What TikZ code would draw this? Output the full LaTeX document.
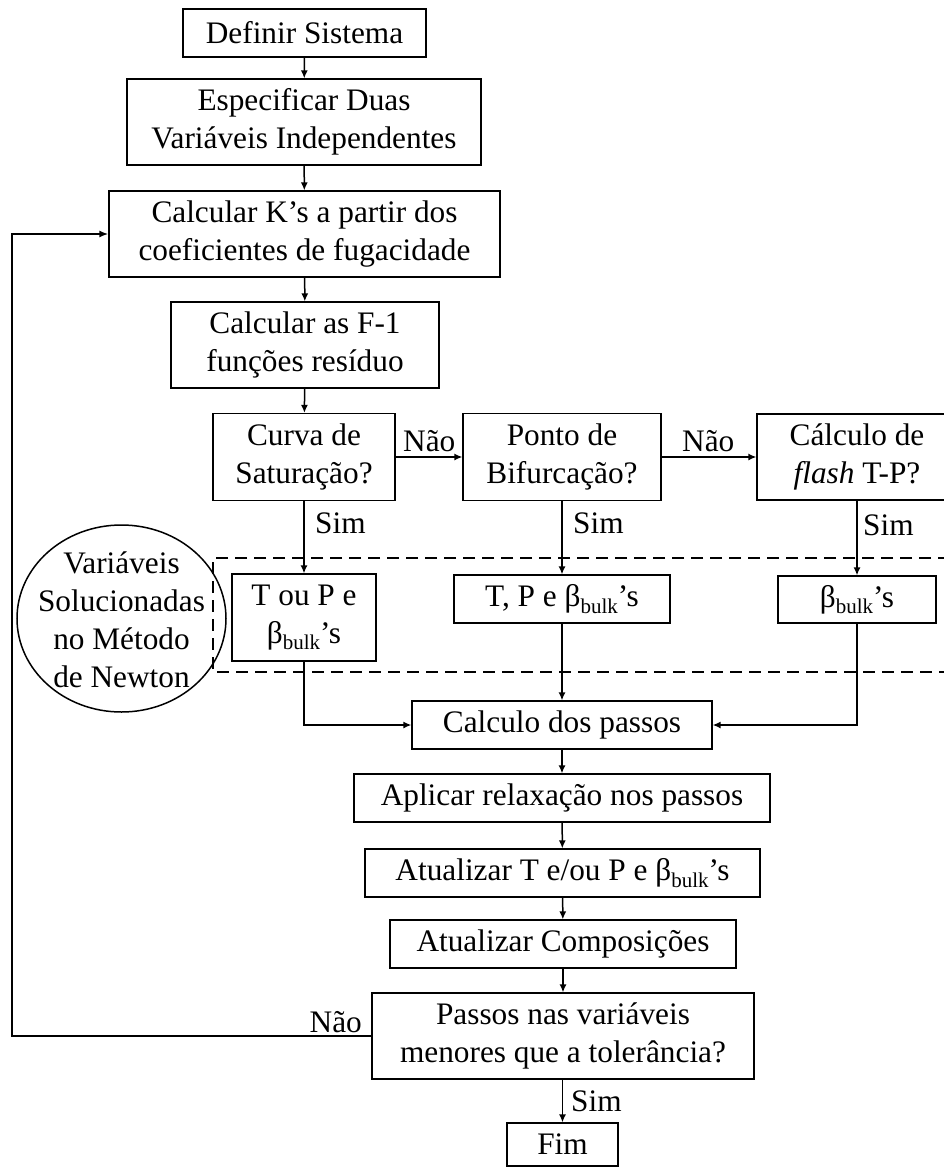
\documentclass[tikz,border=0pt]{standalone}
\usepackage{fontspec}
\setmainfont{Liberation Serif}
\usetikzlibrary{arrows.meta}
% beta with the "bulk" subscript and the plural ending
\newcommand\bbulk{β\raisebox{-0.21em}{\fontsize{21}{21}\selectfont bulk}’s}

\begin{document}
\begin{tikzpicture}[x=1pt,y=-1pt,
  txt/.style={font=\fontsize{31.3}{38}\selectfont, inner sep=0pt},
  box/.style={txt, draw, line width=1.2pt, align=center},
  ovalline/.style={line width=1.5pt},
  flow/.style={line width=1.5pt, -{Latex[length=8pt,width=7pt]}},
  loopline/.style={line width=2.4pt, -{Latex[length=9pt,width=7pt]}},
  region/.style={line width=2pt, dash pattern=on 12pt off 7pt}]
\clip (0,0) rectangle (944,1167);

% main column
\node[box, minimum width=243pt, minimum height=48pt] (def) at (304.5,33) {Definir Sistema};
\node[box, minimum width=354pt, minimum height=86pt] (esp) at (304,122) {Especificar Duas\\Variáveis Independentes};
\node[box, minimum width=391pt, minimum height=86pt] (kval) at (304.5,234) {Calcular K’s a partir dos\\coeficientes de fugacidade};
\node[box, minimum width=268pt, minimum height=86pt] (res) at (305,345) {Calcular as F-1\\funções resíduo};

% decisions
\node[box, minimum width=182pt, minimum height=87pt] (curva) at (304,457) {Curva de\\Saturação?};
\node[box, minimum width=198pt, minimum height=87pt] (bif) at (562,457) {Ponto de\\Bifurcação?};
\node[box, minimum width=200pt, minimum height=86pt] (flash) at (857,457) {Cálculo de\\\textit{flash} T-P?};

% Newton variables
\node[box, minimum width=144pt, minimum height=87pt] (vcurva) at (304,617.5) {T ou P e\\\bbulk};
\node[box, minimum width=216pt, minimum height=48pt] (vbif) at (562,599) {T, P e \bbulk};
\node[box, minimum width=158pt, minimum height=47pt] (vflash) at (857,599.5) {\bbulk};

\node[txt, align=center] (newton) at (121.5,620)
  {Variáveis\\Solucionadas\\no Método\\de Newton};
\draw[ovalline] (121.5,618.5) ellipse [x radius=104.5, y radius=93.5];

% region of the Newton variables
\draw[region] (950,558) -- (213,558) -- (213,672) -- (950,672);

% update steps
\node[box, minimum width=300pt, minimum height=48pt] (passos) at (562,725) {Calculo dos passos};
\node[box, minimum width=416pt, minimum height=48pt] (relax) at (562,798) {Aplicar relaxação nos passos};
\node[box, minimum width=395pt, minimum height=48pt] (atT) at (562.5,873) {Atualizar T e/ou P e \bbulk};
\node[box, minimum width=346pt, minimum height=48pt] (atC) at (563,944) {Atualizar Composições};
\node[box, minimum width=382pt, minimum height=86pt] (tol) at (563,1036) {Passos nas variáveis\\menores que a tolerância?};
\node[box, minimum width=111pt, minimum height=43pt] (fim) at (562.5,1144.5) {Fim};

% connectors
\draw[flow] (def) -- (esp);
\draw[flow] (esp) -- (kval);
\draw[flow] (kval) -- (res);
\draw[flow] (res) -- (curva);
\draw[flow] (curva) -- (bif);
\draw[flow] (bif) -- (flash);
\draw[flow] (curva) -- (vcurva);
\draw[flow] (bif) -- (vbif);
\draw[flow] (flash) -- (vflash);
\draw[flow] (vcurva.south) |- (passos.west);
\draw[flow] (vbif) -- (passos);
\draw[flow] (vflash.south) |- (passos.east);
\draw[flow] (passos) -- (relax);
\draw[flow] (relax) -- (atT);
\draw[flow] (atT) -- (atC);
\draw[flow] (atC) -- (tol);
\draw[flow] (tol.south -| fim.north) -- (fim.north);
\coordinate (back) at (12,1036);
\draw[loopline] (tol.west) -- (back) |- (kval.west);

% branch labels
\node[txt, anchor=base west] (n1) at (403,451) {Não};
\node[txt, anchor=base west] (n2) at (682,451) {Não};
\node[txt, anchor=base east] (n3) at (362,1032) {Não};
\node[txt, anchor=base west] (s1) at (315,533) {Sim};
\node[txt, anchor=base west] (s2) at (573,533) {Sim};
\node[txt, anchor=base west] (s3) at (863,535) {Sim};
\node[txt, anchor=base west] (s4) at (571,1111) {Sim};
\end{tikzpicture}
\end{document}
